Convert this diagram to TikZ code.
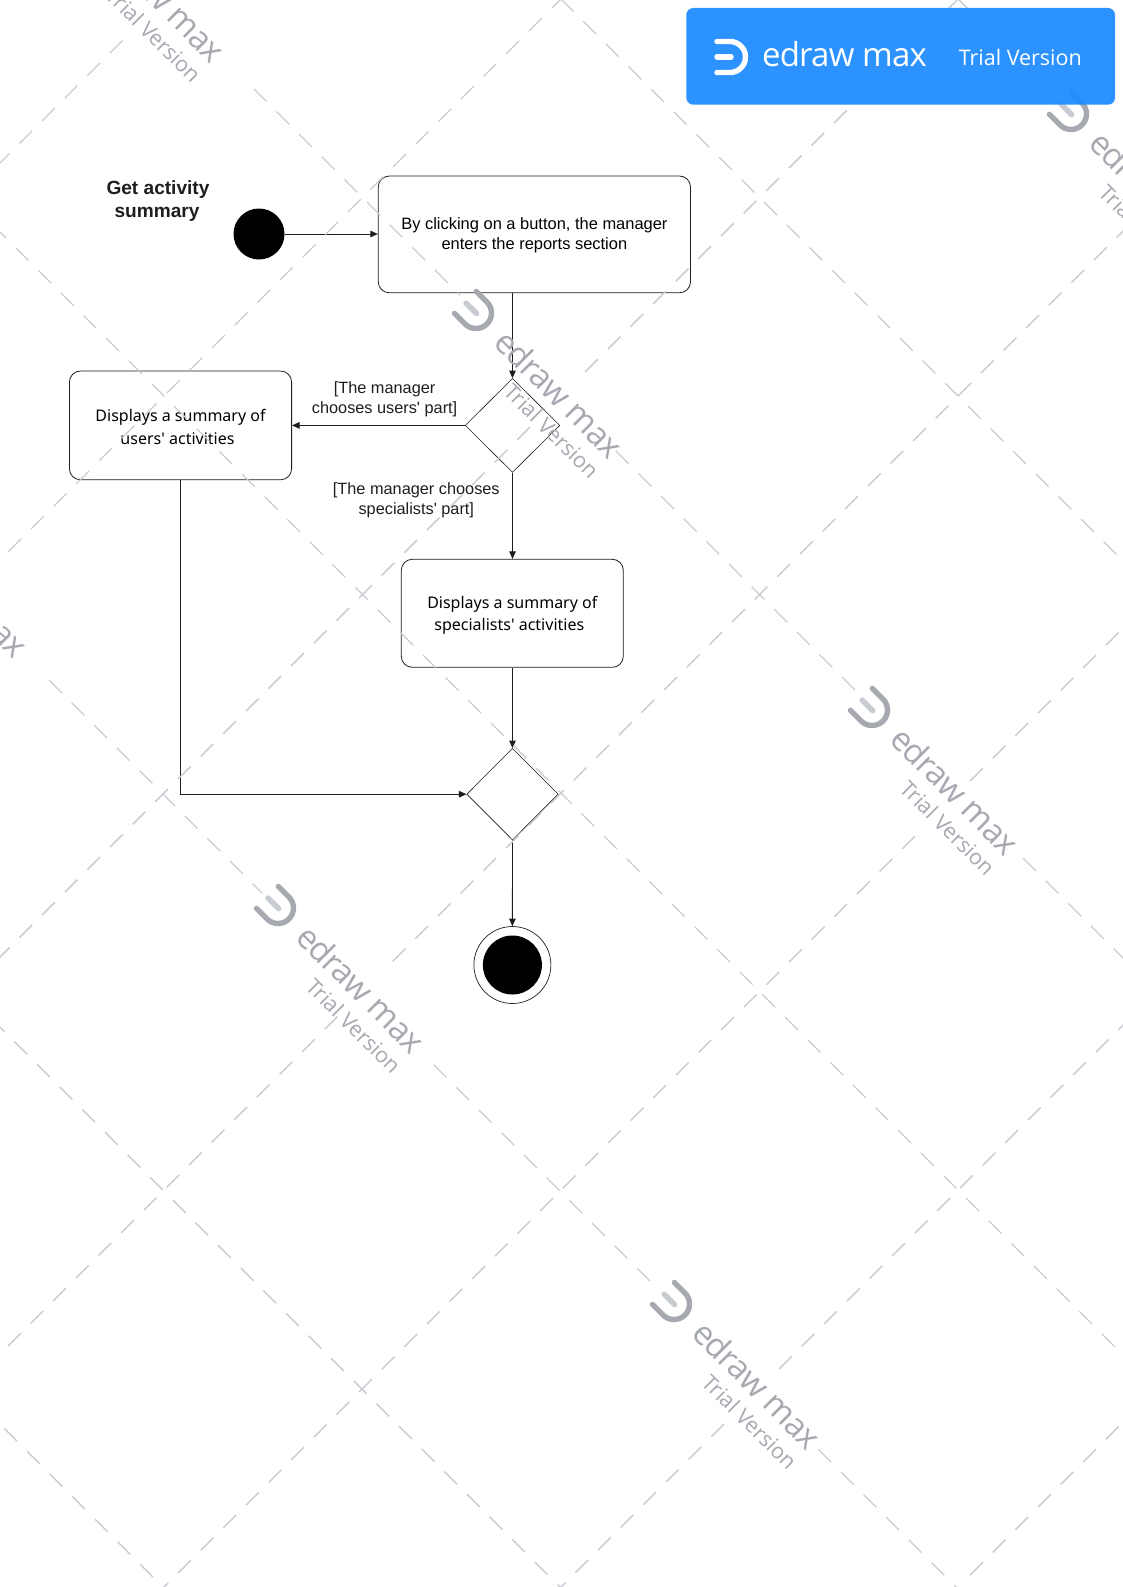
\documentclass[tikz,border=0pt]{standalone}
\usepackage{fontspec}
\setmainfont{Liberation Sans}
\newfontfamily\liberfont{Liberation Sans}
\newfontfamily\uifont{Noto Sans}
\newfontfamily\wmfont{Open Sans}
\newfontfamily\wmnamefont[LetterSpace=-2.4]{Open Sans}
\usetikzlibrary{shapes.geometric,arrows.meta}
\definecolor{wmline}{HTML}{C9CBD2}
\definecolor{wmtext}{HTML}{A6A9B0}
\definecolor{ink}{HTML}{1E1E1E}
\definecolor{bannerblue}{HTML}{1B8AFF}
\tikzset{
  conn/.style={draw=ink,line width=0.9pt,-{Triangle[length=7.5pt,width=6.5pt]}},
  activity/.style={draw=ink,line width=0.8pt,rounded corners=11pt,inner sep=0pt,align=center,font=\uifont\fontsize{16}{22.7}\selectfont},
  decision/.style={draw=ink,line width=0.6pt,diamond,aspect=1,inner sep=0pt},
  guard/.style={align=center,inner sep=0pt,font=\liberfont\fontsize{16.3}{20}\selectfont,text=ink},
  wmdash/.style={draw=wmline,line width=1.4pt,dash pattern=on 18pt off 14pt},
}
\newcommand{\nwse}[4]{% c phase xstart xend : x-y=c
  \pgfmathsetmacro\xsa{#2+22.627*ceil((#3-#2)/22.627)}
  \draw[wmdash] (\xsa,\xsa-#1) -- (#4,#4-#1);}
\newcommand{\nesw}[4]{% s phase xstart xend : x+y=s
  \pgfmathsetmacro\xsb{#2+22.627*ceil((#3-#2)/22.627)}
  \draw[wmdash] (\xsb,#1-\xsb) -- (#4,#1-#4);}
\newcommand{\wmark}[3]{% name, arc centre
  \begin{scope}[shift={(#2,#3)},rotate=-45]
    \draw[wmline,line width=5.4pt,line cap=round] (-14,0) -- (1,0);
    \draw[wmtext,line width=5.4pt,line cap=round] (-15,-15.5) -- (0,-15.5) arc[start angle=90,end angle=-90,radius=15.5pt] -- (-15,15.5);
    \node[rotate=-45,text=wmtext,inner sep=0pt,font=\wmnamefont\fontsize{33}{33}\selectfont] (#1a) at (116,-2) {edraw max};
    \node[rotate=-45,text=wmtext,inner sep=0pt,font=\wmfont\fontsize{21.5}{24}\selectfont] (#1b) at (137,30) {Trial Version};
  \end{scope}}
\begin{document}
\begin{tikzpicture}[x=1pt,y=-1pt]
\useasboundingbox (0,0) rectangle (1123,1587);
\fill[white] (0,0) rectangle (1123,1587);
% diagram
\node[font=\liberfont\bfseries\fontsize{19.1}{23.3}\selectfont,align=center,text=ink,inner sep=0pt] (title) at (158,201) {Get activity\\summary\kern 2pt};
\node[circle,fill=black,inner sep=0pt,minimum size=51pt] (start) at (259,234) {};
\node[activity,minimum width=312.3pt,minimum height=116.7pt,font=\liberfont\fontsize{16.45}{20}\selectfont] (b1) at (534.4,234.4) {\rule{0pt}{14pt}By clicking on a button, the manager\\enters the reports section};
\node[decision,minimum width=94.6pt,minimum height=94pt] (d1) at (512.5,425.4) {};
\node[activity,minimum width=222.2pt,minimum height=108.7pt] (b2) at (180.5,425.4) {\rule{0pt}{15.5pt}Displays a summary of\\users' activities\kern 6pt};
\node[activity,minimum width=222pt,minimum height=108pt] (b3) at (512.3,613.3) {\rule{0pt}{16pt}Displays a summary of\\specialists' activities\kern 6pt};
\node[decision,minimum width=91.5pt,minimum height=91.7pt] (d2) at (512.5,794.2) {};
\node[circle,draw=ink,line width=0.7pt,inner sep=0pt,minimum size=77pt] (endo) at (512.4,965) {};
\node[circle,fill=black,inner sep=0pt,minimum size=59pt] (endi) at (512.4,965) {};
\node[guard] (g1) at (384.6,399) {[The manager\\chooses users' part]};
\node[guard] (g2) at (416.3,499.8) {[The manager chooses\\specialists' part]};
\draw[conn] (start.east) -- (b1.west |- start.east);
\draw[conn] (d1.north |- b1.south) -- (d1.north);
\draw[conn] (d1.west) -- (b2.east |- d1.west);
\draw[conn] (d1.south) -- (b3.north -| d1.south);
\draw[conn] (b3.south -| d2.north) -- (d2.north);
\draw[conn] (b2.south) |- (d2.west);
\draw[conn] (d2.south) -- (endo.north);
% watermark
\begin{scope}
\clip (0,0) rectangle (1123,1587);
\nesw{163}{19.5}{-30}{125}
\nesw{560}{8.5}{-30}{590}
\nesw{957}{19.5}{-30}{530}
\nesw{957}{19.5}{580}{990}
\nesw{1354}{8.0}{-30}{339}
\nesw{1354}{8.0}{375}{1150}
\nesw{1751}{19.7}{150}{915}
\nesw{1751}{19.7}{965}{1150}
\nesw{2148}{9.7}{550}{724}
\nesw{2148}{9.7}{770}{1150}
\nesw{2545}{19.7}{950}{1150}
\nwse{-1424}{4.5}{-30}{190}
\nwse{-1027}{14.5}{-30}{590}
\nwse{-631}{3.8}{32}{262}
\nwse{-631}{3.8}{430}{657}
\nwse{-631}{3.8}{812}{1150}
\nwse{-232}{15.8}{-30}{1150}
\nwse{165}{5}{235}{460}
\nwse{165}{5}{615}{855}
\nwse{165}{5}{1020}{1150}
\nwse{562}{17.6}{530}{1150}
\nwse{959}{5}{930}{1055}
\wmark{wa}{78}{-83}
\wmark{wb}{476}{313}
\wmark{wc}{872}{710}
\wmark{wd}{278}{908}
\wmark{we}{674}{1304}
\wmark{wf}{1071}{114}
\wmark{wg}{-119}{512}
\end{scope}
% banner
\fill[bannerblue,fill opacity=0.93,rounded corners=7pt] (686.3,8) rectangle (1115,104.7);
\draw[white,line width=5.4pt,line cap=round] (717,57) -- (731,57);
\draw[white,line width=5.4pt,line cap=round] (717,41.5) -- (730,41.5) arc[start angle=90,end angle=-90,radius=15.5pt] -- (717,72.5);
\node[text=white,inner sep=0pt,font=\wmnamefont\fontsize{33}{33}\selectfont] (bname) at (844.5,54) {edraw max};
\node[text=white,inner sep=0pt,font=\wmfont\fontsize{21.5}{24}\selectfont] (btrial) at (1020.3,57) {Trial Version};
\end{tikzpicture}
\end{document}
